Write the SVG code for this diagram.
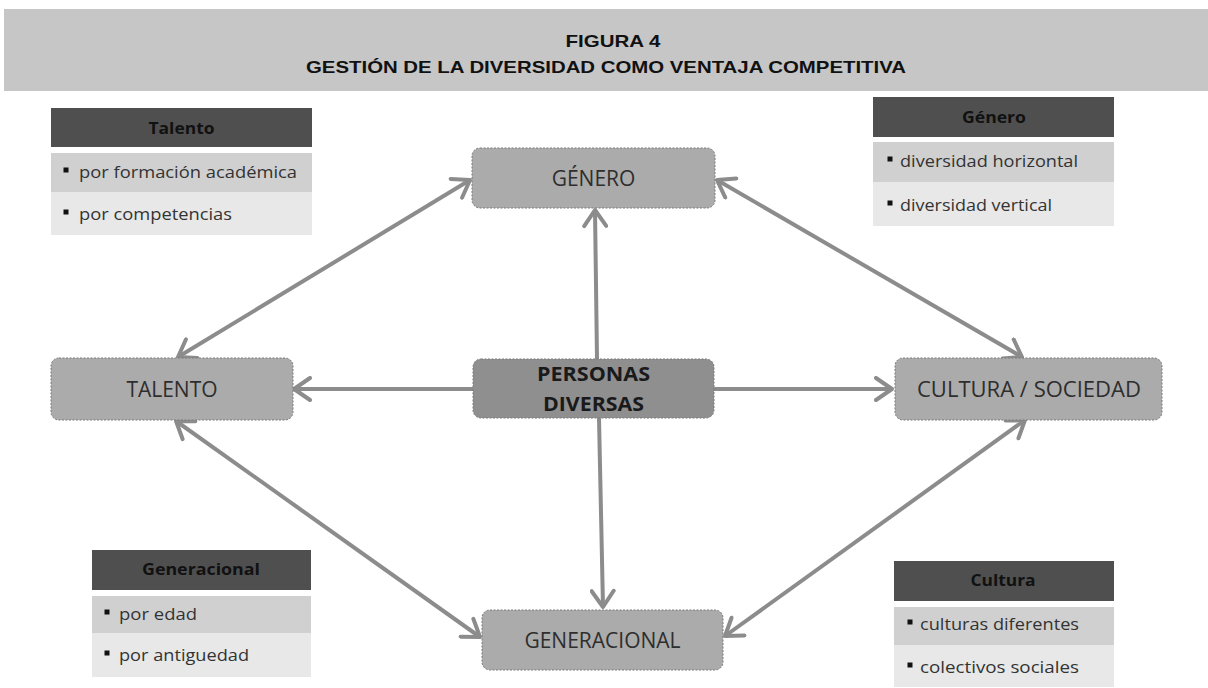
<svg xmlns="http://www.w3.org/2000/svg" width="1208" height="688" viewBox="0 0 1208 688">
<style>
.title{font-family:"Liberation Sans",Arial,sans-serif;font-weight:bold;font-size:16.5px;fill:#111;text-anchor:middle}
.node{stroke:#7a7a7a;stroke-width:1;stroke-dasharray:2 1.5}
.nfill{fill:#ababab}
.pfill{fill:#8f8f8f}
.nlabel{font-family:"Open Sans",sans-serif;font-size:21px;fill:#2e2e2e;text-anchor:middle}
.plabel{font-family:"Open Sans",sans-serif;font-weight:bold;font-size:20px;fill:#1a1a1a;text-anchor:middle}
.hdr{fill:#4f4f4f}
.r1{fill:#d0d0d0}
.r2{fill:#e8e8e8}
.htext{font-family:"Open Sans",sans-serif;font-weight:bold;font-size:16px;fill:#111;text-anchor:middle}
.rtext{font-family:"Open Sans",sans-serif;font-size:17px;fill:#333}
.bul{fill:#111}
.conn{stroke:#8c8c8c;stroke-width:4;fill:none}
</style>
<defs>
<marker id="ah" markerUnits="userSpaceOnUse" viewBox="0 0 22 26" refX="19" refY="13" markerWidth="22" markerHeight="26" orient="auto-start-reverse">
<path d="M3,2 L19,13 L3,24" fill="none" stroke="#8c8c8c" stroke-width="4" stroke-linejoin="round" stroke-linecap="round"/>
</marker>
</defs>

<g id="header">
<rect x="4" y="9" width="1204" height="82" fill="#c6c6c6"/>
<text class="title" x="613" y="47" textLength="95" lengthAdjust="spacingAndGlyphs">FIGURA 4</text>
<text class="title" x="606" y="73" textLength="600" lengthAdjust="spacingAndGlyphs">GESTIÓN DE LA DIVERSIDAD COMO VENTAJA COMPETITIVA</text>
</g>

<g id="connectors">
<line class="conn" x1="597" y1="359" x2="595" y2="210" marker-end="url(#ah)"/>
<line class="conn" x1="599" y1="418" x2="603" y2="607" marker-end="url(#ah)"/>
<line class="conn" x1="473" y1="389" x2="294" y2="389" marker-end="url(#ah)"/>
<line class="conn" x1="714" y1="389" x2="892" y2="389" marker-end="url(#ah)"/>
<line class="conn" x1="178" y1="357" x2="470" y2="180" marker-start="url(#ah)" marker-end="url(#ah)"/>
<line class="conn" x1="717" y1="180" x2="1022" y2="357" marker-start="url(#ah)" marker-end="url(#ah)"/>
<line class="conn" x1="176" y1="421" x2="480" y2="637" marker-start="url(#ah)" marker-end="url(#ah)"/>
<line class="conn" x1="1025" y1="420" x2="725" y2="636" marker-start="url(#ah)" marker-end="url(#ah)"/>
</g>

<g id="node-genero">
<rect class="node nfill" x="472" y="148" width="243" height="60" rx="8"/>
<text class="nlabel" x="593.5" y="186">GÉNERO</text>
</g>
<g id="node-talento">
<rect class="node nfill" x="51" y="358" width="242" height="62" rx="8"/>
<text class="nlabel" x="172" y="397">TALENTO</text>
</g>
<g id="node-personas">
<rect class="node pfill" x="473" y="359" width="241" height="59" rx="8"/>
<text class="plabel" x="593.5" y="381" textLength="113" lengthAdjust="spacingAndGlyphs">PERSONAS</text>
<text class="plabel" x="593.5" y="411" textLength="101" lengthAdjust="spacingAndGlyphs">DIVERSAS</text>
</g>
<g id="node-cultura">
<rect class="node nfill" x="895" y="358" width="267" height="62" rx="8"/>
<text class="nlabel" x="1029" y="397" textLength="224" lengthAdjust="spacingAndGlyphs">CULTURA / SOCIEDAD</text>
</g>
<g id="node-generacional">
<rect class="node nfill" x="482" y="610" width="241" height="60" rx="8"/>
<text class="nlabel" x="602.5" y="648">GENERACIONAL</text>
</g>

<g id="panel-talento">
<rect class="hdr" x="51" y="108" width="261" height="39"/>
<rect class="r1" x="51" y="153" width="261" height="39"/>
<rect class="r2" x="51" y="192" width="261" height="43"/>
<text class="htext" x="181.5" y="134" textLength="66" lengthAdjust="spacingAndGlyphs">Talento</text>
<rect class="bul" x="63.5" y="167.5" width="5" height="5"/>
<text class="rtext" x="79" y="178" textLength="218" lengthAdjust="spacingAndGlyphs">por formación académica</text>
<rect class="bul" x="63.5" y="209.5" width="5" height="5"/>
<text class="rtext" x="79" y="220" textLength="153" lengthAdjust="spacingAndGlyphs">por competencias</text>
</g>

<g id="panel-genero">
<rect class="hdr" x="873" y="97" width="241" height="40"/>
<rect class="r1" x="873" y="142" width="241" height="40"/>
<rect class="r2" x="873" y="182" width="241" height="44"/>
<text class="htext" x="994" y="123" textLength="64" lengthAdjust="spacingAndGlyphs">Género</text>
<rect class="bul" x="887.5" y="156.5" width="5" height="5"/>
<text class="rtext" x="900" y="167" font-size="16" textLength="178" lengthAdjust="spacingAndGlyphs">diversidad horizontal</text>
<rect class="bul" x="887.5" y="200.5" width="5" height="5"/>
<text class="rtext" x="900" y="211" font-size="16" textLength="152" lengthAdjust="spacingAndGlyphs">diversidad vertical</text>
</g>

<g id="panel-generacional">
<rect class="hdr" x="92" y="550" width="219" height="40"/>
<rect class="r1" x="92" y="596" width="219" height="37"/>
<rect class="r2" x="92" y="633" width="219" height="44"/>
<text class="htext" x="201" y="575" textLength="118" lengthAdjust="spacingAndGlyphs">Generacional</text>
<rect class="bul" x="104.5" y="609.5" width="5" height="5"/>
<text class="rtext" x="119" y="620" font-size="16" textLength="78" lengthAdjust="spacingAndGlyphs">por edad</text>
<rect class="bul" x="104.5" y="650.5" width="5" height="5"/>
<text class="rtext" x="119" y="661" font-size="16" textLength="130" lengthAdjust="spacingAndGlyphs">por antiguedad</text>
</g>

<g id="panel-cultura">
<rect class="hdr" x="894" y="561" width="220" height="40"/>
<rect class="r1" x="894" y="607" width="220" height="38"/>
<rect class="r2" x="894" y="645" width="220" height="42"/>
<text class="htext" x="1003" y="586" textLength="65" lengthAdjust="spacingAndGlyphs">Cultura</text>
<rect class="bul" x="907.5" y="619.5" width="5" height="5"/>
<text class="rtext" x="920" y="630" font-size="16" textLength="159" lengthAdjust="spacingAndGlyphs">culturas diferentes</text>
<rect class="bul" x="907.5" y="662.5" width="5" height="5"/>
<text class="rtext" x="920" y="673" font-size="16" textLength="159" lengthAdjust="spacingAndGlyphs">colectivos sociales</text>
</g>
</svg>
